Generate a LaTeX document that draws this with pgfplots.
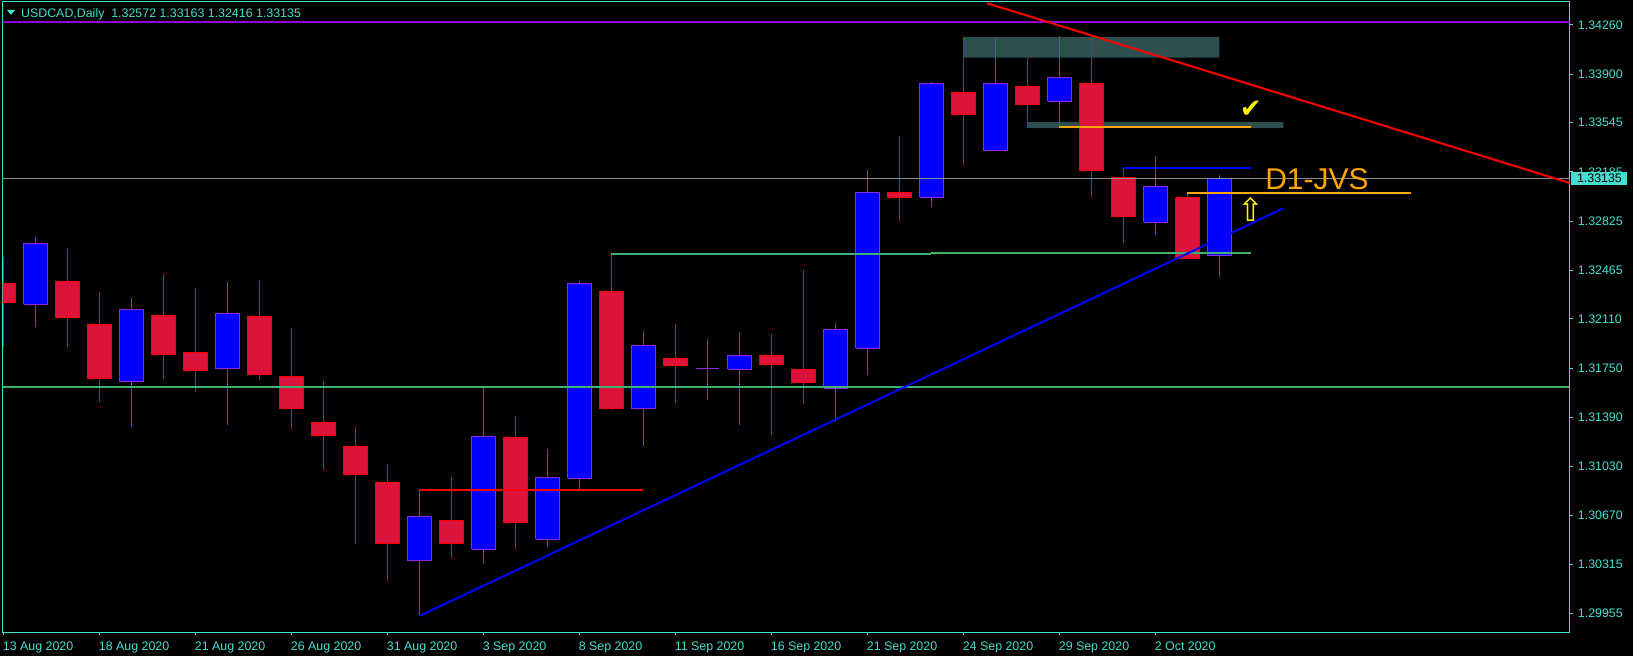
\documentclass[border=0pt]{standalone}
\usepackage{fontspec}
\setmainfont{Liberation Sans}
\newfontfamily\djv{DejaVu Sans}
\usepackage{pgfplots}
\pgfplotsset{compat=1.18}

\definecolor{turq}{RGB}{64,224,208}
\definecolor{dviolet}{RGB}{148,0,211}
\definecolor{bviolet}{RGB}{138,43,226}
\definecolor{crim}{RGB}{220,20,60}
\definecolor{mgreen}{RGB}{60,179,113}
\definecolor{slate}{RGB}{47,79,79}
\definecolor{orng}{RGB}{255,165,0}
\definecolor{bidgray}{RGB}{140,140,140}

\newcommand\sm{\fontsize{6.2}{7}\selectfont}

% one candle: index, open, high, low, close
\newcommand\candle[5]{%
  \pgfmathsetmacro\xa{#1-0.366}%
  \pgfmathsetmacro\xb{#1+0.366}%
  \ifdim #5pt<#2pt \def\sty{bear}\else\def\sty{bull}\fi
  \edef\doit{%
    \noexpand\addplot[\sty-wick] coordinates {(#1,#4) (#1,#3)};
    \noexpand\addplot[\sty-body] coordinates {(\xa,#2) (\xb,#2) (\xb,#5) (\xa,#5) (\xa,#2)};
  }\doit}

\begin{document}
\begin{tikzpicture}
\path[use as bounding box] (0,0) rectangle (816.5pt,328pt);
\fill[black] (0,0) rectangle (816.5pt,328pt);
\begin{axis}[
  at={(1.25pt,11.85pt)}, anchor=south west,
  width=783.5pt, height=315.15pt, scale only axis,
  xmin=-0.031, xmax=48.94, ymin=1.298161, ymax=1.344283,
  enlargelimits=false, clip mode=individual,
  axis line style={turq, line width=0.5pt},
  tick style={turq, line width=0.5pt},
  major tick length=1.5pt, tick align=outside,
  xtick pos=left, ytick pos=right, yticklabel pos=right,
  xtick={0,3,...,36},
  xticklabels={13 Aug 2020,18 Aug 2020,21 Aug 2020,26 Aug 2020,31 Aug 2020,3 Sep 2020,8 Sep 2020,11 Sep 2020,16 Sep 2020,21 Sep 2020,24 Sep 2020,29 Sep 2020,2 Oct 2020},
  ytick={1.29955,1.30315,1.30670,1.31030,1.31390,1.31750,1.32110,1.32465,1.32825,1.33185,1.33545,1.33900,1.34260},
  yticklabels={1.29955,1.30315,1.30670,1.31030,1.31390,1.31750,1.32110,1.32465,1.32825,1.33185,1.33545,1.33900,1.34260},
  xticklabel style={font=\sm, text=turq, anchor=north west, inner sep=0pt, xshift=-0.5pt, yshift=-3pt},
  yticklabel style={font=\sm, text=turq, anchor=west, inner sep=0pt, xshift=2.5pt},
  bull-wick/.style={draw=bviolet, line width=0.5pt},
  bull-body/.style={draw=bviolet, fill=blue, line width=0.5pt},
  bear-wick/.style={draw=red, line width=0.5pt},
  bear-body/.style={draw=red, fill=crim, line width=0.5pt},
]
% supply / demand zones (background)
\addplot[fill=slate, draw=none] coordinates {(30,1.34172) (38,1.34172) (38,1.34021) (30,1.34021) (30,1.34172)};
\addplot[fill=slate, draw=none] coordinates {(32,1.33550) (40,1.33550) (40,1.33506) (32,1.33506) (32,1.33550)};

% daily candles: i, open, high, low, close
\candle{0}{1.32370}{1.32560}{1.31906}{1.32228}
\candle{1}{1.32216}{1.32707}{1.32052}{1.32663}
\candle{2}{1.32385}{1.32619}{1.31906}{1.32118}
\candle{3}{1.32070}{1.32304}{1.31504}{1.31672}
\candle{4}{1.31650}{1.32260}{1.31321}{1.32180}
\candle{5}{1.32136}{1.32438}{1.31670}{1.31848}
\candle{6}{1.31865}{1.32336}{1.31577}{1.31730}
\candle{7}{1.31745}{1.32377}{1.31335}{1.32150}
\candle{8}{1.32129}{1.32387}{1.31662}{1.31701}
\candle{9}{1.31690}{1.32043}{1.31306}{1.31452}
\candle{10}{1.31353}{1.31653}{1.31006}{1.31256}
\candle{11}{1.31177}{1.31319}{1.30465}{1.30970}
\candle{12}{1.30914}{1.31041}{1.30194}{1.30465}
\candle{13}{1.30340}{1.30858}{1.29936}{1.30665}
\candle{14}{1.30636}{1.30953}{1.30362}{1.30465}
\candle{15}{1.30424}{1.31613}{1.30318}{1.31251}
\candle{16}{1.31243}{1.31399}{1.30428}{1.30618}
\candle{17}{1.30497}{1.31158}{1.30443}{1.30951}
\candle{18}{1.30943}{1.32385}{1.30867}{1.32370}
\candle{19}{1.32312}{1.32584}{1.31443}{1.31452}
\candle{20}{1.31452}{1.32021}{1.31182}{1.31916}
\candle{21}{1.31823}{1.32072}{1.31496}{1.31767}
\candle{22}{1.31748}{1.31962}{1.31518}{1.31748}
\candle{23}{1.31741}{1.32014}{1.31335}{1.31843}
\candle{24}{1.31843}{1.31999}{1.31262}{1.31774}
\candle{25}{1.31741}{1.32467}{1.31489}{1.31643}
\candle{26}{1.31602}{1.32080}{1.31357}{1.32033}
\candle{27}{1.31894}{1.33199}{1.31701}{1.33036}
\candle{28}{1.33036}{1.33448}{1.32828}{1.32996}
\candle{29}{1.32999}{1.33843}{1.32931}{1.33833}
\candle{30}{1.33768}{1.34172}{1.33238}{1.33604}
\candle{31}{1.33340}{1.34172}{1.33340}{1.33833}
\candle{32}{1.33811}{1.34021}{1.33516}{1.33677}
\candle{33}{1.33702}{1.34180}{1.33516}{1.33877}
\candle{34}{1.33833}{1.34180}{1.33004}{1.33194}
\candle{35}{1.33146}{1.33212}{1.32663}{1.32857}
\candle{36}{1.32816}{1.33302}{1.32726}{1.33080}
\candle{37}{1.32994}{1.33033}{1.32550}{1.32550}
\candle{38}{1.32572}{1.33163}{1.32416}{1.33135}

% horizontal levels and trend lines
\addplot[dviolet, line width=1pt] coordinates {(-1,1.34282) (50,1.34282)};
\addplot[bidgray, line width=0.5pt] coordinates {(-1,1.33135) (50,1.33135)};
\addplot[mgreen, line width=1pt] coordinates {(-1,1.31613) (50,1.31613)};
\addplot[mgreen, line width=0.9pt] coordinates {(19,1.32584) (29,1.32584)};
\addplot[mgreen, line width=0.9pt] coordinates {(29,1.32594) (39,1.32594)};
\addplot[red, line width=1pt] coordinates {(13,1.30858) (20,1.30858)};
\addplot[blue, line width=1pt] coordinates {(13,1.29936) (40,1.32919)};
\addplot[red, line width=1pt] coordinates {(30.74,1.34419) (49.5,1.33064)};
\addplot[orng, line width=0.9pt] coordinates {(33,1.33516) (39,1.33516)};
\addplot[blue, line width=0.9pt] coordinates {(35,1.33216) (39,1.33216)};
\addplot[orng, line width=0.9pt] coordinates {(37,1.33033) (44,1.33033)};

\node[anchor=base west, inner sep=0pt, text=orng, font=\fontsize{15}{18}\selectfont] at (axis cs:39.42,1.33058) {D1-JVS};
\node[inner sep=0pt, text=yellow, font=\djv\fontsize{13}{16}\selectfont] at (axis cs:38.98,1.33642) {✔};
\node[inner sep=0pt, text=yellow, font=\djv\fontsize{16}{18}\selectfont] at (axis cs:38.98,1.32909) {⇧};
\coordinate (cp) at (axis cs:48.94,1.33135);
\end{axis}
\node[fill=turq, text=black, font=\sm, anchor=west, inner xsep=2.8pt, inner ysep=0pt, minimum height=6.7pt, xshift=0.75pt] at (cp) {1.33135};
\fill[turq] (3.5pt,323pt) -- (7.5pt,323pt) -- (5.5pt,320.5pt) -- cycle;
\node[font=\sm, text=turq, anchor=base west, inner sep=0pt] at (10.35pt,319.35pt) {USDCAD,Daily\ \ 1.32572 1.33163 1.32416 1.33135};
\end{tikzpicture}
\end{document}
